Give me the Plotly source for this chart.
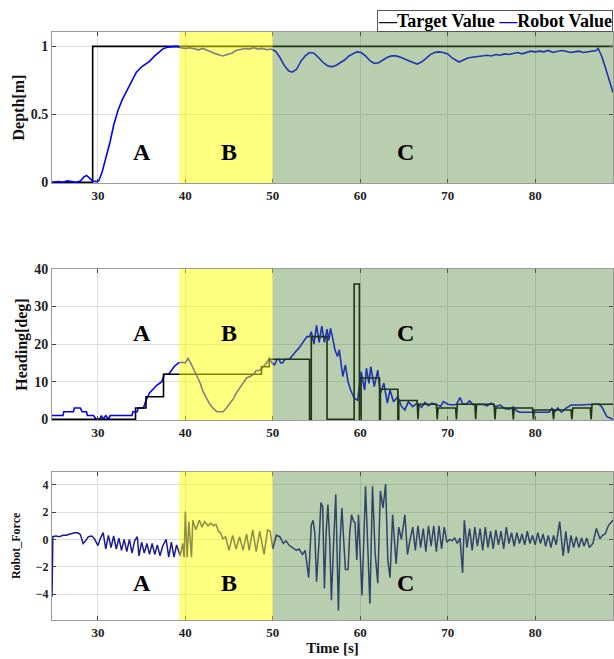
import plotly.graph_objects as go

# ---------------- data ----------------
depth_target_t = [24.75, 29.4, 29.4, 88.9]
depth_target_v = [0, 0, 1, 1]

depth_robot_t = [24.75, 25.5, 26.0, 26.5, 27.0, 27.5, 28.0, 28.4, 28.7, 29.0, 29.4, 29.8, 30.1, 30.5, 31.0,
                 31.4, 31.8, 32.3, 32.8, 33.3, 33.8, 34.4, 35.0, 35.5, 35.9, 36.5, 37.0, 37.4, 38.0, 38.5,
                 39.0, 39.5, 40.0, 40.5, 41.0, 41.5, 42.0, 42.5, 43.0, 43.5, 44.0, 44.3, 44.8, 45.3, 45.8,
                 46.3, 46.8, 47.3, 47.8, 48.3, 48.8, 49.3, 49.8, 50.3, 50.8, 51.3, 51.8, 52.2, 52.7, 53.2,
                 53.7, 54.2, 54.7, 55.2, 55.7, 56.2, 56.7, 57.2, 57.7, 58.2, 58.7, 59.2, 59.6, 60.1, 60.6,
                 61.1, 61.6, 62.1, 62.6, 63.1, 63.6, 64.1, 64.6, 65.1, 65.6, 66.1, 66.5, 67.0, 67.5, 68.0,
                 68.5, 69.0, 69.5, 70.0, 70.5, 71.0, 71.3, 71.8, 72.3, 72.8, 73.3, 74.0, 74.5, 75.0, 75.5,
                 76.0, 76.5, 77.0, 77.5, 78.0, 78.5, 79.0, 79.5, 80.0, 80.5, 81.0, 81.5, 82.0, 82.5, 83.0,
                 83.5, 84.0, 84.5, 85.0, 85.5, 86.0, 86.5, 87.0, 87.2, 87.6, 88.0, 88.4, 88.9]
depth_robot_v = [0.0, 0.005, 0.0, 0.01, 0.005, 0.0, 0.01, 0.04, 0.05, 0.03, 0.01, 0.005, 0.01, 0.08, 0.2,
                 0.3, 0.42, 0.53, 0.61, 0.67, 0.74, 0.81, 0.85, 0.87, 0.89, 0.93, 0.96, 0.98, 0.995, 1.0,
                 1.0, 0.99, 0.985, 0.99, 0.98, 0.975, 0.985, 0.97, 0.96, 0.945, 0.935, 0.93, 0.94, 0.95, 0.97,
                 0.98, 0.985, 0.98, 0.99, 0.98, 0.985, 0.975, 0.98, 0.965, 0.92, 0.86, 0.82, 0.81, 0.83, 0.89,
                 0.93, 0.955, 0.95, 0.92, 0.885, 0.86, 0.85, 0.86, 0.88, 0.9, 0.93, 0.95, 0.96, 0.955, 0.93,
                 0.895, 0.875, 0.88, 0.9, 0.92, 0.93, 0.93, 0.92, 0.905, 0.89, 0.88, 0.87, 0.885, 0.91, 0.94,
                 0.955, 0.96, 0.955, 0.945, 0.915, 0.895, 0.885, 0.9, 0.915, 0.92, 0.925, 0.93, 0.935, 0.93, 0.94,
                 0.935, 0.945, 0.94, 0.95, 0.955, 0.945, 0.955, 0.965, 0.96, 0.965, 0.96, 0.97, 0.955, 0.965, 0.97,
                 0.965, 0.955, 0.96, 0.965, 0.955, 0.96, 0.965, 0.97, 0.985, 0.93, 0.85, 0.76, 0.66]

heading_target_t = [24.75, 34.3, 34.3, 35.5, 35.5, 37.5, 37.5, 48.7, 48.7, 49.6, 49.6, 54.2, 54.2, 54.4, 54.4,
                    56.2, 56.2, 59.3, 59.3, 59.9, 59.9, 60.1, 60.1, 62.2, 62.2, 62.3, 62.3, 64.3, 64.3, 64.4,
                    64.4, 66.5, 66.6, 66.7, 68.7, 68.8, 68.9, 70.9, 71.0, 71.1, 73.1, 73.2, 73.3, 75.3, 75.4,
                    75.5, 77.4, 77.5, 77.6, 79.7, 79.8, 79.9, 82.0, 82.1, 82.2, 84.1, 84.2, 84.3, 86.3, 86.4,
                    86.5, 88.9]
heading_target_v = [0, 0, 3, 3, 6, 6, 12, 12, 14, 14, 16, 16, 0, 0, 22,
                    22, 0, 0, 36, 36, 0, 0, 11, 11, 0, 0, 8, 8, 0, 0,
                    5, 5, 0, 4, 4, 0, 3, 3, 0, 4, 4, 0, 4, 4, 0,
                    3, 3, 0, 3, 3, 0, 2.5, 2.5, 0, 2.5, 2.5, 0, 3, 3, 0,
                    4, 4]

heading_robot_t = [24.75, 26.0, 26.1, 27.2, 27.3, 28.0, 28.2, 28.7, 28.8, 29.5, 29.8, 30.2, 30.4, 30.6, 30.9,
                   31.2, 31.4, 33.9, 34.0, 34.5, 34.6, 35.2, 35.5, 35.9, 36.3, 36.7, 37.3, 37.6, 38.1, 38.4,
                   38.7, 39.2, 39.6, 40.0, 40.3, 40.6, 40.9, 41.3, 41.7, 42.0, 42.4, 42.8, 43.2, 43.6, 44.3,
                   44.7, 45.1, 45.5, 45.8, 46.2, 46.6, 47.0, 47.4, 47.8, 48.1, 48.5, 48.9, 49.3, 49.6, 49.9,
                   50.2, 50.5, 50.7, 50.9, 51.1, 51.4, 51.9, 52.2, 52.6, 53.0, 53.3, 53.6, 53.9, 54.2, 54.4,
                   54.7, 55.0, 55.3, 55.6, 55.9, 56.2, 56.4, 56.6, 56.9, 57.1, 57.4, 57.6, 58.0, 58.3, 58.6,
                   58.9, 59.3, 59.7, 60.1, 60.5, 60.7, 61.0, 61.2, 61.6, 62.0, 62.3, 62.7, 63.1, 63.4, 63.8,
                   64.3, 64.7, 65.1, 65.5, 66.0, 66.5, 67.0, 67.4, 67.8, 68.2, 68.8, 69.2, 69.5, 70.0, 70.6,
                   71.0, 71.4, 71.7, 72.1, 72.5, 72.9, 73.5, 74.0, 74.5, 75.0, 75.5, 76.0, 76.5, 77.0, 77.5,
                   77.8, 78.2, 79.0, 80.0, 81.0, 81.6, 81.9, 82.3, 82.6, 83.0, 83.5, 84.1, 85.0, 86.0, 86.8,
                   87.3, 87.6, 88.2, 88.9]
heading_robot_v = [1, 1, 2, 2, 3, 3, 2, 2, 1, 1, 0, 0, 1, 0, 1,
                   0, 1, 1, 2, 2, 3, 3, 5, 7, 8, 9, 10, 12, 12, 13,
                   14, 15, 15.2, 15, 16.2, 15, 13.6, 11.5, 9.6, 7.5, 5.6, 4, 2.9, 2, 2,
                   3, 4.3, 5.5, 6.9, 8.3, 9.6, 11, 11.4, 12, 13, 13, 14, 15, 16.2, 15,
                   14.5, 16, 16, 15, 15, 16, 16, 17, 18, 19, 20, 21, 22, 22, 23.3,
                   20, 25, 20.5, 24.8, 20.5, 24, 21, 24.2, 21, 18.5, 16.7, 18.5, 11.4, 14.5, 10,
                   7.8, 5.6, 5.1, 12.7, 7.8, 13.6, 9.6, 14, 8.7, 13.1, 6.9, 9.6, 4.3, 7.8, 4.7,
                   6, 3.5, 2.5, 4.7, 3.4, 4.3, 3.2, 4.5, 3.6, 4.3, 3.8, 3.5, 4.7, 4, 3.8,
                   4, 5.8, 4.2, 4, 4.9, 3.9, 4, 4, 3.6, 4.3, 3.4, 3.8, 2.9, 2.7, 3.3,
                   2.4, 1.9, 1.9, 1.9, 1.9, 1.9, 2.9, 2.2, 3.0, 1.9, 2.9, 3.8, 3.8, 4, 4,
                   4, 3.4, 0.7, 0]

force_t = [24.75, 24.85, 25.2, 25.6, 26.0, 26.4, 26.8, 27.2, 27.5, 27.8, 28.0, 28.3, 28.6, 28.9, 29.3,
           29.6, 30.0, 30.3, 30.6, 30.9, 31.2, 31.5, 31.8, 32.1, 32.4, 32.7, 33.0, 33.3, 33.6, 33.9,
           34.2, 34.5, 34.7, 35.0, 35.3, 35.6, 35.9, 36.2, 36.5, 36.8, 37.1, 37.4, 37.8, 38.1, 38.4,
           38.7, 39.0, 39.4, 39.7, 39.85, 40.0, 40.2, 40.4, 40.7, 40.85, 41.2, 41.6, 41.9, 42.2, 42.6,
           42.9, 43.2, 43.5, 43.8, 44.0, 44.3, 44.6, 45.0, 45.4, 45.8, 46.2, 46.6, 47.0, 47.3, 47.7,
           48.1, 48.5, 49.0, 49.4, 49.7, 50.0, 50.4, 50.8, 51.2, 51.5, 51.9, 52.3, 52.7, 53.0, 53.4,
           53.7, 54.1, 54.4, 54.6, 54.8, 55.0, 55.3, 55.5, 55.7, 55.9, 56.1, 56.3, 56.5, 56.7, 57.0,
           57.2, 57.35, 57.5, 57.7, 57.9, 58.1, 58.3, 58.6, 58.8, 59.0, 59.2, 59.4, 59.6, 59.8, 59.95,
           60.2, 60.6, 60.85, 61.1, 61.4, 61.7, 62.0, 62.3, 62.6, 62.9, 63.15, 63.4, 63.7, 64.1, 64.4,
           64.7, 65.1, 65.4, 65.7, 66.0, 66.3, 66.6, 66.9, 67.2, 67.5, 67.8, 68.1, 68.4, 68.7, 69.0,
           69.3, 69.6, 69.9, 70.2, 70.5, 70.8, 71.1, 71.4, 71.7, 71.9, 72.2, 72.5, 72.8, 73.1, 73.4,
           73.7, 74.0, 74.3, 74.6, 74.9, 75.2, 75.5, 75.8, 76.1, 76.4, 76.7, 77.0, 77.3, 77.6, 77.9,
           78.2, 78.5, 78.8, 79.1, 79.4, 79.7, 80.0, 80.3, 80.6, 80.9, 81.2, 81.5, 81.8, 82.1, 82.4,
           82.8, 83.2, 83.5, 83.8, 84.1, 84.4, 84.7, 85.0, 85.3, 85.6, 85.9, 86.2, 86.6, 87.0, 87.4,
           87.7, 88.0, 88.4, 88.9]
force_v = [-4.2, 0.2, 0.25, 0.2, 0.3, 0.3, 0.4, 0.45, 0.5, 0.45, 0.35, -0.3, -0.1, 0.2, 0.25,
           0.05, -0.45, 0.1, 0.5, -0.7, 0.3, -0.6, 0.25, -0.7, 0.1, -0.8, 0.0, -0.9, 0.0, -1.0,
           -0.1, 0.2, -1.2, -0.2, -1.0, -0.3, -1.1, -0.3, -1.1, -0.4, -1.2, -0.5, 0.0, -1.3, -0.2,
           -1.3, -0.4, -1.2, -0.3, -1.3, 2.05, -1.3, 1.3, -1.3, 1.4, 0.7, 1.4, 0.9, 1.3, 1.0,
           1.2, 1.0, 1.1, 0.6, 0.5, 0.05, 0.2, -0.8, 0.3, -0.7, 0.2, -0.8, 0.4, -0.8, 0.7,
           -0.9, 0.6, -1.1, 0.7, 0.6, -0.7, 0.3, 0.2, -0.3, -0.1, -0.45, -0.6, -0.8, -0.7, -1.1,
           -0.8, -2.8, 1.05, 1.4, 0.5, -3.1, 0.0, 2.7, 2.4, -3.6, 0.5, 2.55, 0.0, -4.45, 0.5,
           3.3, -1.0, -5.2, 0.0, 2.3, 0.0, -2.2, -2.2, 0.5, 1.8, 1.4, 1.2, -1.5, 1.8, -1.0,
           -4.1, 3.9, -0.5, -4.7, 3.9, -1.0, -3.2, 3.55, 2.3, 4.05, -1.5, -2.8, 1.8, -1.8, 0.9,
           0.0, 1.8, -1.1, 0.0, 0.9, -0.8, 1.0, -0.6, 0.8, -0.9, 1.0, -0.5, 1.0, -0.9, 1.0,
           -0.7, 0.9, -0.2, 0.0, -0.1, 0.1, -0.3, 0.1, -2.45, 1.4, -0.6, 0.8, -0.8, 0.9, -0.5,
           0.8, -0.8, 0.9, -0.6, 0.6, -0.7, 0.7, -0.4, 0.6, -0.7, 0.9, -0.3, 0.5, -0.5, 0.5,
           -0.3, 0.4, -0.4, 0.6, -0.3, 0.3, -0.4, 0.5, -0.3, 0.4, -0.5, 0.3, -0.6, 0.3, -0.4,
           1.3, -1.2, 0.6, -1.0, 0.3, -0.6, 0.2, -0.6, 0.1, -0.5, 0.1, -0.6, -0.3, 0.8, 0.05,
           0.3, 0.4, 1.05, 1.4]

x_ticks = [30, 40, 50, 60, 70, 80]
depth_ticks = [0, 0.5, 1]
heading_ticks = [0, 10, 20, 30, 40]
force_ticks = [-4, -2, 0, 2, 4]
phase_labels = ["A", "B", "C"]
phase_bounds = [39.3, 50.0]

# ---------------- figure ----------------
SERIF = "Liberation Serif"
XR = [24.75, 88.9]

fig = go.Figure()
fig.add_trace(go.Scatter(x=depth_target_t, y=depth_target_v, mode="lines", line=dict(color="black", width=1.6),
                         xaxis="x", yaxis="y", showlegend=False))
fig.add_trace(go.Scatter(x=depth_robot_t, y=depth_robot_v, mode="lines", line=dict(color="#0000ff", width=1.6),
                         xaxis="x", yaxis="y", showlegend=False))
fig.add_trace(go.Scatter(x=heading_robot_t, y=heading_robot_v, mode="lines", line=dict(color="#0000ff", width=1.6),
                         xaxis="x2", yaxis="y2", showlegend=False))
fig.add_trace(go.Scatter(x=heading_target_t, y=heading_target_v, mode="lines", line=dict(color="black", width=1.6),
                         xaxis="x2", yaxis="y2", showlegend=False))
fig.add_trace(go.Scatter(x=force_t, y=force_v, mode="lines", line=dict(color="#1c1c8c", width=1.5),
                         xaxis="x3", yaxis="y3", showlegend=False))

tickfont = dict(family=SERIF, size=14, color="#222", weight="bold")
common_x = dict(range=XR, tickvals=x_ticks, showgrid=True, gridcolor="#dcdcdc", gridwidth=1,
                showline=True, linecolor="#9a9a9a", linewidth=1, mirror="ticks", ticks="inside",
                ticklen=4, tickcolor="#444", zeroline=False, tickfont=dict(family=SERIF, size=13, color="#222", weight="bold"))
common_y = dict(showgrid=True, gridcolor="#dcdcdc", gridwidth=1, showline=True, linecolor="#9a9a9a",
                linewidth=1, mirror="ticks", ticks="inside", ticklen=4, tickcolor="#444", zeroline=False)

fig.update_layout(
    width=614, height=659,
    margin=dict(l=52, r=1, t=32, b=39),
    paper_bgcolor="white", plot_bgcolor="white",
    xaxis=dict(**common_x, domain=[0, 1], anchor="y"),
    yaxis=dict(**common_y, domain=[0.743, 1.0], range=[-0.006, 1.106], tickvals=depth_ticks,
               ticktext=["0", "0.5", "1"], tickfont=tickfont, anchor="x",
               title=dict(text="Depth[m]", font=dict(family=SERIF, size=16, color="#111", weight="bold"), standoff=2)),
    xaxis2=dict(**common_x, domain=[0, 1], anchor="y2"),
    yaxis2=dict(**common_y, domain=[0.340, 0.597], range=[-0.2, 40], tickvals=heading_ticks, tickfont=tickfont,
                anchor="x2",
                title=dict(text="Heading[deg]", font=dict(family=SERIF, size=16, color="#111", weight="bold"), standoff=2)),
    xaxis3=dict(**common_x, domain=[0, 1], anchor="y3",
                title=dict(text="Time [s]", font=dict(family=SERIF, size=15, color="#111", weight="bold"), standoff=2)),
    yaxis3=dict(**common_y, domain=[0.0, 0.252], range=[-5.9, 4.95], tickvals=force_ticks,
                tickfont=dict(family=SERIF, size=12, color="#222", weight="bold"), anchor="x3",
                title=dict(text="Robot_Force", font=dict(family=SERIF, size=12, color="#111", weight="bold"), standoff=12)),
)

shapes = []
for yref in ["y domain", "y2 domain", "y3 domain"]:
    xref = {"y domain": "x", "y2 domain": "x2", "y3 domain": "x3"}[yref]
    shapes.append(dict(type="rect", xref=xref, yref=yref, x0=phase_bounds[0], x1=phase_bounds[1], y0=0, y1=1,
                       fillcolor="rgba(255,255,0,0.5)", line=dict(width=0), layer="above"))
    shapes.append(dict(type="rect", xref=xref, yref=yref, x0=phase_bounds[1], x1=XR[1], y0=0, y1=1,
                       fillcolor="rgba(80,130,55,0.4)", line=dict(width=0), layer="above"))
fig.update_layout(shapes=shapes)

letter_font = dict(family=SERIF, size=24, color="black", weight="bold")
letter_x = [35.0, 45.0, 65.2]
for xr, yr, ypos in [("x", "y", 0.22), ("x2", "y2", 23), ("x3", "y3", -3.2)]:
    for lab, lx in zip(phase_labels, letter_x):
        fig.add_annotation(x=lx, y=ypos, xref=xr, yref=yr, text=lab, showarrow=False, font=letter_font)

# legend box
fig.add_annotation(xref="paper", yref="paper", x=1.0, y=1.0, xanchor="right", yanchor="bottom",
                   text='<span style="color:#111">—</span>Target Value <span style="color:#0000ff">—</span>Robot Value',
                   showarrow=False, font=dict(family=SERIF, size=18, color="black", weight="bold"),
                   bgcolor="white", bordercolor="#555", borderwidth=1, borderpad=0)

fig.write_html("out.html", config={"displayModeBar": False},
               post_script="document.body.style.margin='0';document.body.style.overflow='hidden';")
